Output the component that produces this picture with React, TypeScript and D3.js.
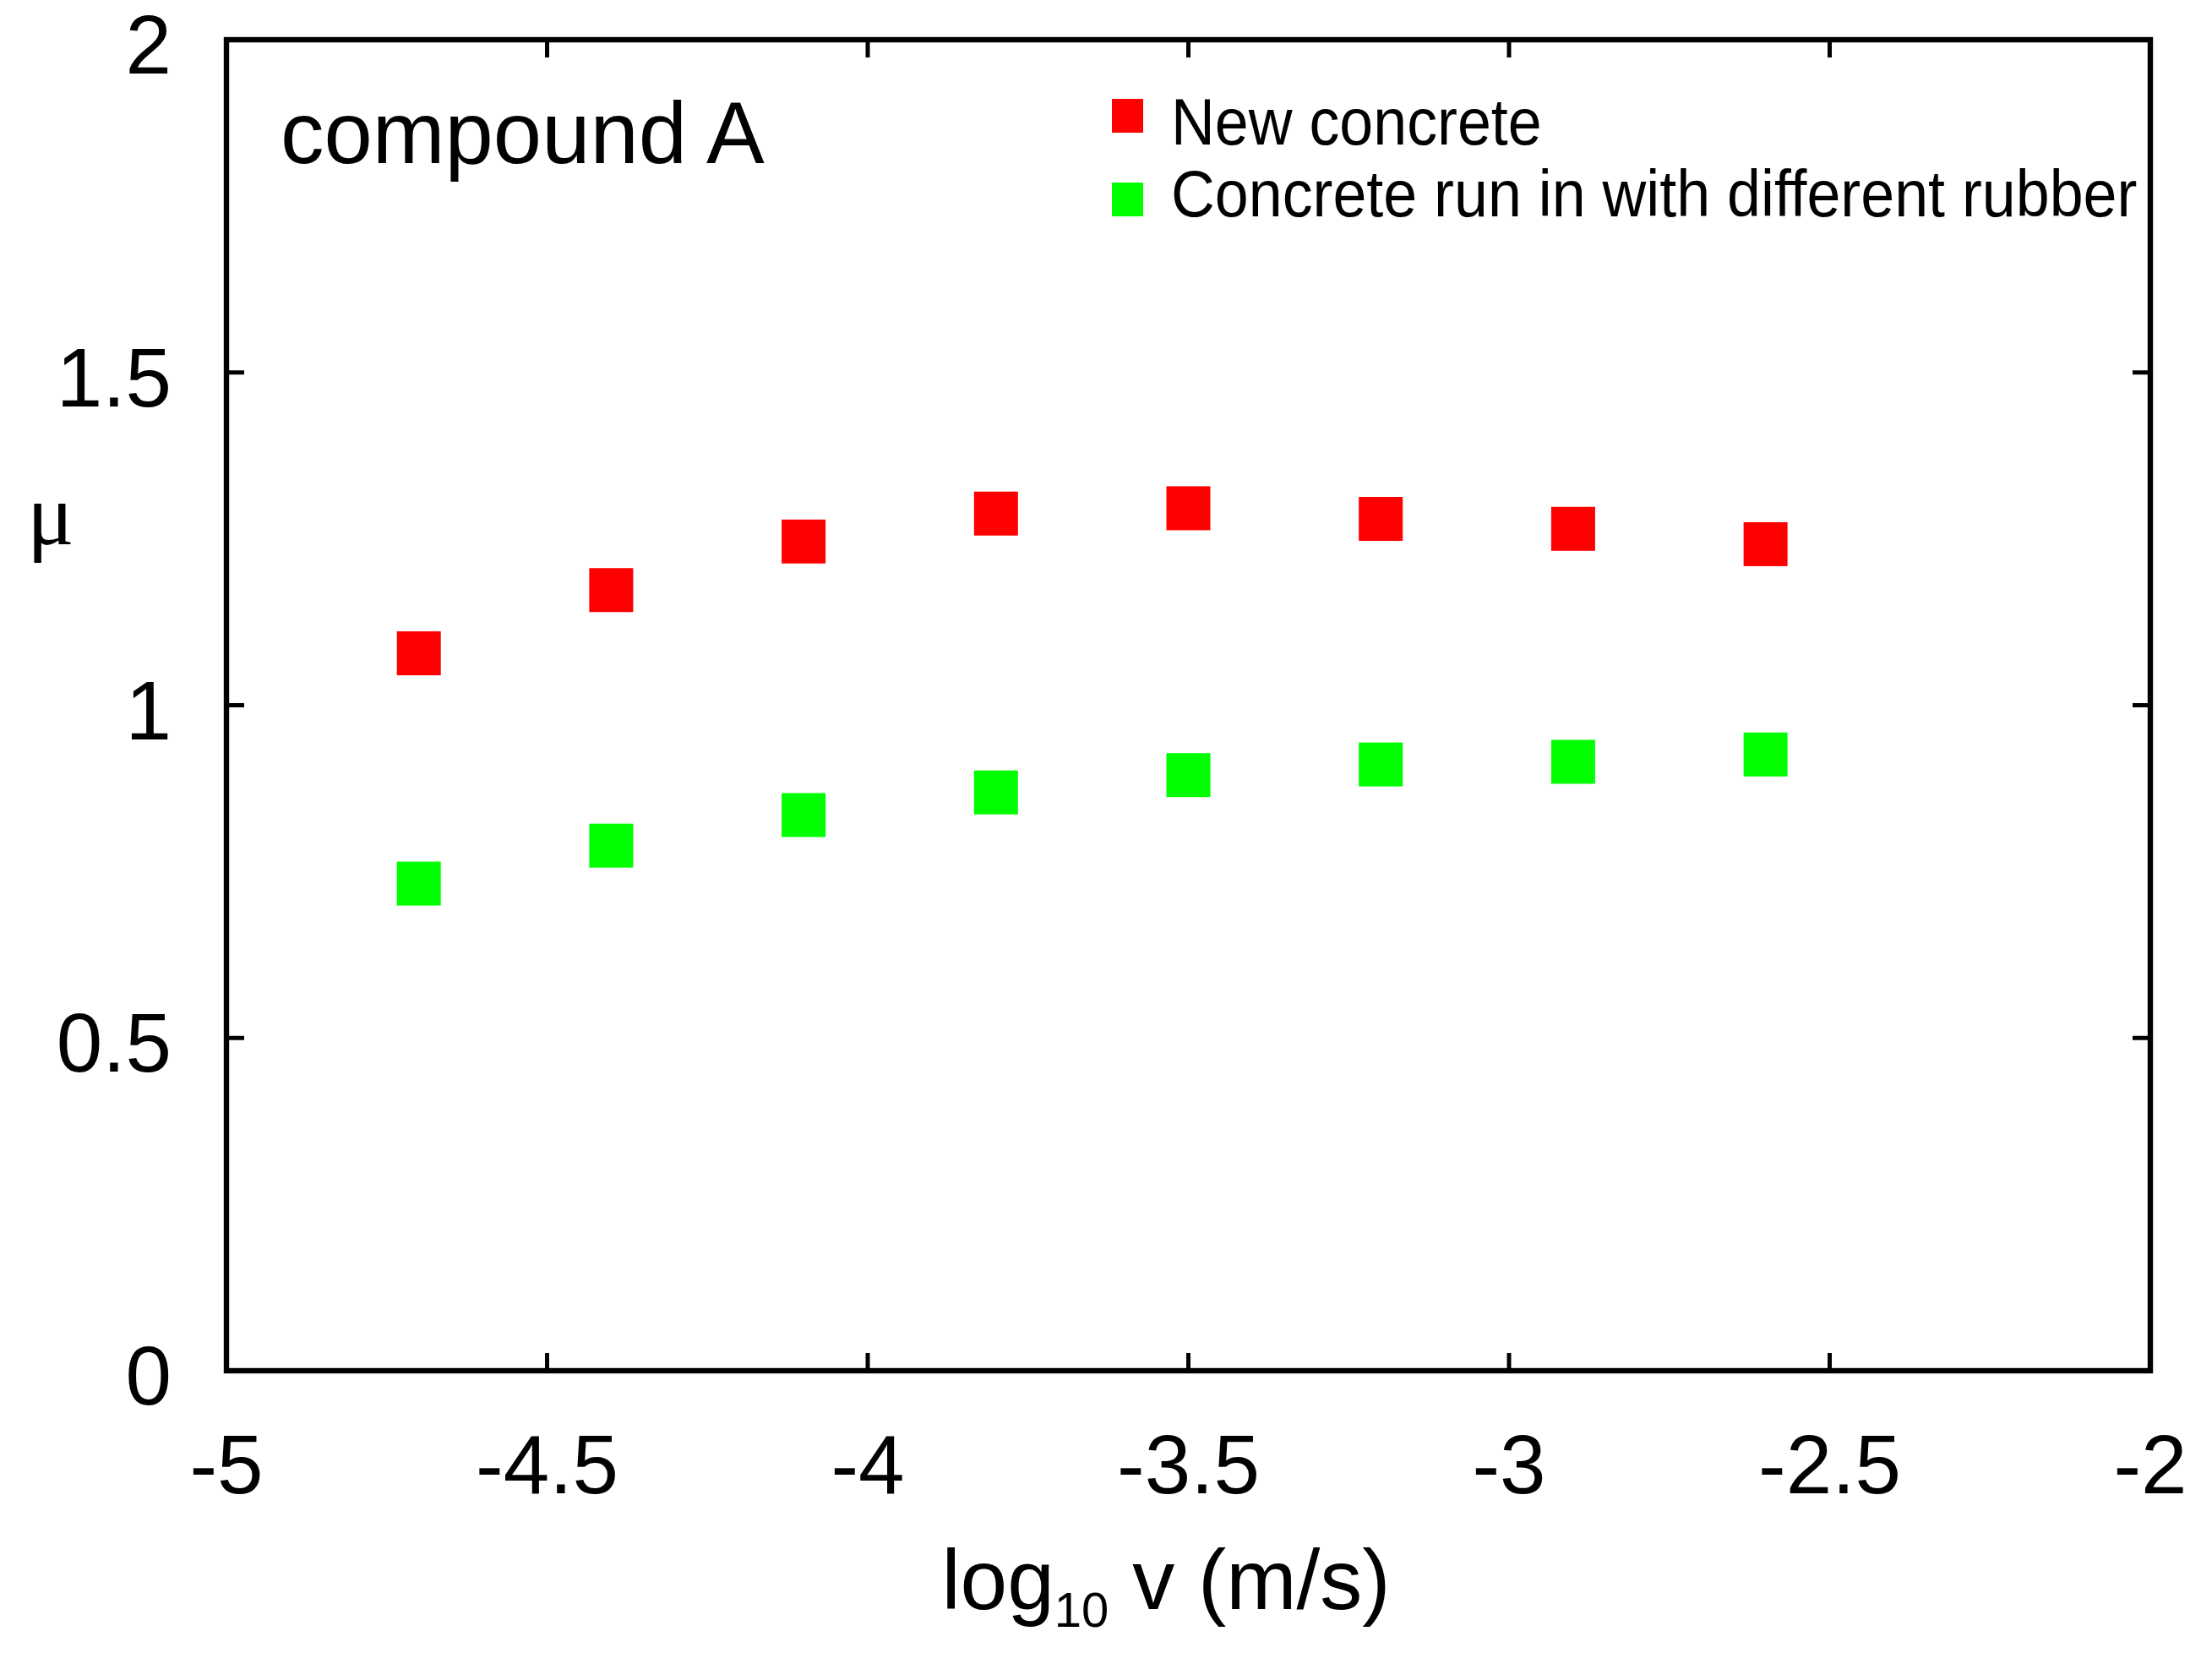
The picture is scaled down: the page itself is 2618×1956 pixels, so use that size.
import React, { useEffect, useRef } from "react";
import * as d3 from "d3";

// log10 of sliding speed (m/s)
const logV = [-4.7, -4.4, -4.1, -3.8, -3.5, -3.2, -2.9, -2.6];
// friction coefficient, new concrete
const newConcrete = [1.078, 1.173, 1.246, 1.288, 1.296, 1.28, 1.265, 1.242];
// friction coefficient, concrete run in with a different rubber
const runInConcrete = [0.732, 0.789, 0.835, 0.869, 0.895, 0.911, 0.915, 0.926];

const xTicks = [-5, -4.5, -4, -3.5, -3, -2.5, -2];
const yTicks = [0, 0.5, 1, 1.5, 2];

const seriesNames = ["New concrete", "Concrete run in with different rubber"];
const seriesColors = ["#ff0000", "#00ff00"];

const App = () => {
  const ref = useRef(null);

  useEffect(() => {
    const width = 2618;
    const height = 1956;
    const left = 268;
    const right = 2545;
    const top = 47;
    const bottom = 1622;
    const tickLen = 21;
    const font = "'Liberation Sans', Arial, Helvetica, sans-serif";

    d3.select(ref.current).selectAll("*").remove();
    const svg = d3
      .select(ref.current)
      .append("svg")
      .attr("width", width)
      .attr("height", height)
      .style("position", "absolute")
      .style("left", 0)
      .style("top", 0)
      .style("background", "#fff");

    const x = d3.scaleLinear().domain([-5, -2]).range([left, right]);
    const y = d3.scaleLinear().domain([0, 2]).range([bottom, top]);

    // ticks on all four sides, pointing inward
    const ticks = svg.append("g").attr("stroke", "#000").attr("stroke-width", 5);
    xTicks.forEach((t) => {
      ticks.append("line").attr("x1", x(t)).attr("x2", x(t)).attr("y1", bottom).attr("y2", bottom - tickLen);
      ticks.append("line").attr("x1", x(t)).attr("x2", x(t)).attr("y1", top).attr("y2", top + tickLen);
    });
    yTicks.forEach((t) => {
      ticks.append("line").attr("x1", left).attr("x2", left + tickLen).attr("y1", y(t)).attr("y2", y(t));
      ticks.append("line").attr("x1", right).attr("x2", right - tickLen).attr("y1", y(t)).attr("y2", y(t));
    });

    // frame
    svg
      .append("rect")
      .attr("x", left)
      .attr("y", top)
      .attr("width", right - left)
      .attr("height", bottom - top)
      .attr("fill", "none")
      .attr("stroke", "#000")
      .attr("stroke-width", 6.4);

    // tick labels
    svg
      .append("g")
      .selectAll("text")
      .data(xTicks)
      .enter()
      .append("text")
      .attr("x", (d) => x(d))
      .attr("y", bottom + 145)
      .attr("text-anchor", "middle")
      .style("font-family", font)
      .style("font-size", "98px")
      .text((d) => String(d));

    svg
      .append("g")
      .selectAll("text")
      .data(yTicks)
      .enter()
      .append("text")
      .attr("x", left - 65)
      .attr("y", (d) => y(d) + 40)
      .attr("text-anchor", "end")
      .style("font-family", font)
      .style("font-size", "98px")
      .text((d) => String(d));

    // axis titles
    const xl = svg
      .append("text")
      .attr("x", 1380)
      .attr("y", 1904)
      .attr("text-anchor", "middle")
      .style("font-family", font)
      .style("font-size", "100px");
    xl.append("tspan").text("log");
    xl.append("tspan").attr("dy", 21).style("font-size", "58px").text("10");
    xl.append("tspan").attr("dy", -21).text(" v (m/s)");

    svg
      .append("text")
      .attr("x", 60)
      .attr("y", 644)
      .attr("text-anchor", "middle")
      .style("font-family", "'Liberation Serif', 'DejaVu Serif', serif")
      .style("font-size", "104px")
      .text("μ");

    svg
      .append("text")
      .attr("x", 332)
      .attr("y", 193)
      .style("font-family", font)
      .style("font-size", "103px")
      .text("compound A");

    // data points
    const size = 52;
    [newConcrete, runInConcrete].forEach((vals, s) => {
      svg
        .append("g")
        .selectAll("rect")
        .data(vals)
        .enter()
        .append("rect")
        .attr("x", (d, i) => x(logV[i]) - size / 2)
        .attr("y", (d) => y(d) - size / 2)
        .attr("width", size)
        .attr("height", size)
        .attr("fill", seriesColors[s]);
    });

    // legend
    const legend = svg.append("g");
    seriesNames.forEach((name, i) => {
      const rowTop = 117 + i * 99;
      legend
        .append("rect")
        .attr("x", 1316)
        .attr("y", rowTop)
        .attr("width", 37)
        .attr("height", 40)
        .attr("fill", seriesColors[i]);
      legend
        .append("text")
        .attr("transform", `translate(1386,${171 + i * 85}) scale(0.92,1)`)
        .style("font-family", font)
        .style("font-size", "78px")
        .text(name);
    });
  }, []);

  return <div ref={ref}></div>;
};

export default App;
